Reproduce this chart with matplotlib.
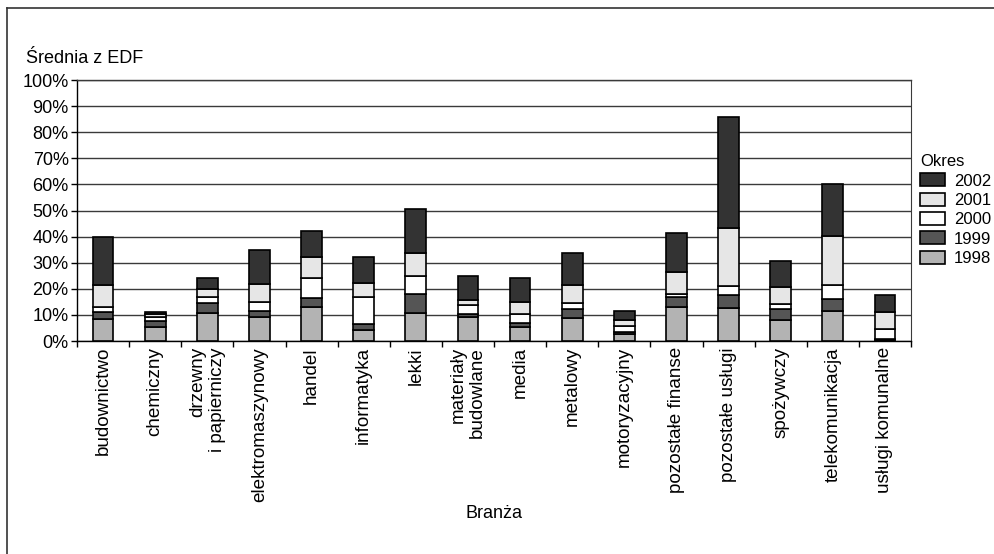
import numpy as np
import matplotlib.pyplot as plt
from matplotlib.lines import Line2D

plt.rcParams['font.family'] = ['Liberation Sans', 'DejaVu Sans']

branze = ['budownictwo', 'chemiczny', 'drzewny\ni papierniczy', 'elektromaszynowy',
          'handel', 'informatyka', 'lekki', 'materiały\nbudowlane', 'media',
          'metalowy', 'motoryzacyjny', 'pozostałe finanse', 'pozostałe usługi',
          'spożywczy', 'telekomunikacja', 'usługi komunalne']

# średnie EDF w procentach, dla każdego okresu
r1998 = [8.3, 5.5, 10.6, 9.2, 12.9, 4.2, 10.6, 9.2, 5.4, 8.9, 2.7, 13.1, 12.6, 8.0, 11.4, 0.5]
r1999 = [2.7, 2.3, 3.8, 2.3, 3.7, 2.2, 7.3, 1.1, 1.4, 3.4, 0.6, 3.8, 5.0, 4.1, 4.8, 0.3]
r2000 = [2.2, 1.5, 2.5, 3.3, 7.7, 10.5, 6.9, 3.4, 3.7, 2.4, 2.3, 1.1, 3.6, 2.2, 5.3, 3.8]
r2001 = [8.3, 1.0, 3.0, 7.2, 7.8, 5.5, 8.8, 1.9, 4.6, 6.9, 2.6, 8.3, 22.0, 6.3, 18.6, 6.6]
r2002 = [18.5, 0.9, 4.4, 13.0, 9.9, 9.9, 16.8, 9.2, 9.0, 12.1, 3.4, 15.1, 42.7, 9.9, 20.1, 6.5]

okresy = ['1998', '1999', '2000', '2001', '2002']
kolory = ['#b3b3b3', '#555555', '#ffffff', '#e6e6e6', '#333333']
serie = [r1998, r1999, r2000, r2001, r2002]

fig = plt.figure(figsize=(9.95, 5.54), dpi=100)
ax = fig.add_axes([77 / 995, 1 - 341 / 554, (911 - 77) / 995, (341 - 80) / 554])

x = np.arange(len(branze))
dol = np.zeros(len(branze))
slupki = []
for nazwa, kolor, s in zip(okresy, kolory, serie):
    b = ax.bar(x, s, width=0.4, bottom=dol, color=kolor, edgecolor='black',
               linewidth=1.2, label=nazwa, zorder=3)
    slupki.append(b)
    dol += np.array(s)

ax.set_xlim(-0.5, len(branze) - 0.5)
ax.set_ylim(0, 100)
ax.set_yticks(np.arange(0, 101, 10))
ax.set_yticklabels([f'{v}%' for v in range(0, 101, 10)], fontsize=13)
ax.yaxis.grid(True, color='#3a3a3a', linewidth=1.0, zorder=0)
ax.set_axisbelow(True)

# etykiety kategorii pod osią, znaczniki na granicach kategorii
ax.set_xticks(np.arange(-0.5, len(branze), 1))
ax.set_xticklabels([])
ax.tick_params(axis='x', direction='out', length=4, width=1)
ax.tick_params(axis='y', direction='out', length=4, width=1, pad=2)
for xi, nazwa in zip(x, branze):
    ax.text(xi, -2.3, nazwa, rotation=90, ha='center', va='top',
            multialignment='right', fontsize=13.6, transform=ax.transData)

for side in ['top', 'left', 'bottom']:
    ax.spines[side].set_linewidth(1.0)
ax.spines['top'].set_color('#3a3a3a')
ax.spines['right'].set_color('#3a3a3a')
ax.spines['left'].set_color('black')
ax.spines['bottom'].set_color('black')

fig.text(26 / 995, 1 - 63 / 554, 'Średnia z EDF', fontsize=13, va='baseline')
fig.text((77 + 911) / 2 / 995, 1 - 513 / 554, 'Branża', fontsize=13, ha='center', va='center')

leg = fig.legend(handles=slupki[::-1], labels=okresy[::-1], title='Okres',
                 loc='upper left', bbox_to_anchor=(917 / 995, 1 - 151 / 554),
                 frameon=False, fontsize=12, title_fontsize=12, alignment='left',
                 handlelength=1.5, handleheight=0.8, handletextpad=0.5,
                 labelspacing=0.25, borderaxespad=0, borderpad=0.2)

# ramka wokół całego wykresu
fig.add_artist(Line2D([7 / 995, 7 / 995], [0, 1 - 8 / 554], transform=fig.transFigure,
                      color='#333333', linewidth=1.2))
fig.add_artist(Line2D([7 / 995, 1], [1 - 8 / 554, 1 - 8 / 554], transform=fig.transFigure,
                      color='#333333', linewidth=1.2))

fig.savefig('out.png', dpi=100)
